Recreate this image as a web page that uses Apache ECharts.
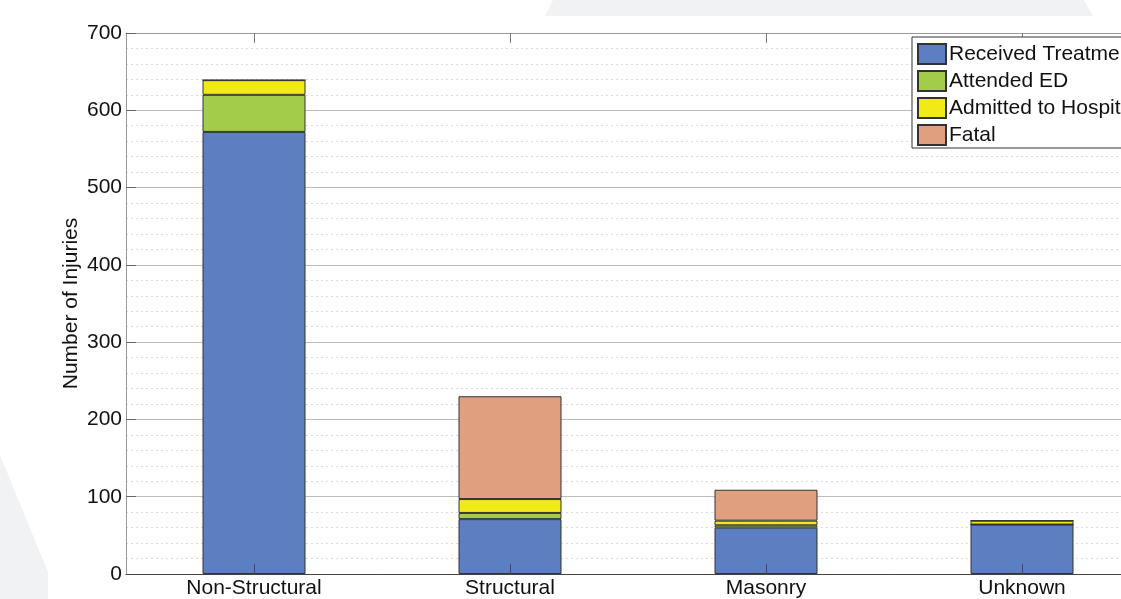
<!DOCTYPE html>
<html>
<head>
<meta charset="utf-8">
<script src="https://cdn.jsdelivr.net/npm/echarts@6/dist/echarts.min.js"></script>
<style>
  html, body { margin: 0; padding: 0; background: #fff; overflow: hidden; }
  /* the original plot runs past the right edge of the picture */
  #chart { width: 1150px; height: 599px; }
</style>
</head>
<body>
<div id="chart"></div>
<script>
// categories and stacked values
const categories = ['Non-Structural', 'Structural', 'Masonry', 'Unknown'];
const receivedTreatment = [572, 71, 60, 64];
const attendedED = [48, 8, 3, 0];
const admittedToHospital = [19, 18, 6, 5];
const fatal = [0, 133, 40, 0];

const seriesNames = ['Received Treatment', 'Attended ED', 'Admitted to Hospital', 'Fatal'];
const seriesColors = ['#5b7fc0', '#a3cd48', '#f2ea17', '#e0a080'];
const seriesData = [receivedTreatment, attendedED, admittedToHospital, fatal];

const font = 'Liberation Sans, Arial, sans-serif';

const chart = echarts.init(document.getElementById('chart'));

const series = seriesNames.map((name, i) => ({
  name: name,
  type: 'bar',
  stack: 'total',
  barWidth: 103,
  data: seriesData[i],
  itemStyle: {
    color: seriesColors[i],
    borderColor: '#333',
    borderWidth: 1
  },
  emphasis: { disabled: true }
}));

chart.setOption({
  animation: false,
  backgroundColor: '#fff',
  textStyle: { fontFamily: font },
  graphic: [
    {
      type: 'polygon', z: -10, silent: true,
      shape: { points: [[553, 0], [1084, 0], [1093, 16], [545, 16]] },
      style: { fill: '#f1f2f4' }
    },
    {
      type: 'polygon', z: -10, silent: true,
      shape: { points: [[0, 455], [48, 572], [48, 599], [0, 599]] },
      style: { fill: '#f1f2f4' }
    }
  ],
  grid: { left: 126, top: 33, bottom: 25, right: 0 },
  legend: {
    orient: 'vertical',
    left: 912,
    top: 37,
    padding: [6, 5, 2, 5],
    itemWidth: 28,
    itemHeight: 20,
    itemGap: 5,
    icon: 'rect',
    backgroundColor: '#fff',
    borderColor: '#333',
    borderWidth: 1,
    borderRadius: 0,
    textStyle: { fontFamily: font, fontSize: 21, color: '#111', lineHeight: 20, padding: [0, 0, 0, -2] },
    data: seriesNames
  },
  xAxis: [
    {
      type: 'category',
      data: categories,
      position: 'bottom',
      z: 5,
      axisLine: { lineStyle: { color: '#444', width: 1 } },
      axisTick: { show: true, inside: true, length: 10, alignWithLabel: true, lineStyle: { color: '#3a4a70' } },
      axisLabel: { fontFamily: font, fontSize: 21, color: '#111', margin: 4 },
      splitLine: { show: false }
    },
    {
      type: 'category',
      data: categories,
      position: 'top',
      axisLine: { lineStyle: { color: '#999', width: 1 } },
      axisTick: { show: true, inside: true, length: 10, alignWithLabel: true, lineStyle: { color: '#777' } },
      axisLabel: { show: false },
      splitLine: { show: false }
    }
  ],
  yAxis: {
    type: 'value',
    min: 0,
    max: 700,
    interval: 100,
    name: 'Number of Injuries',
    nameLocation: 'middle',
    nameGap: 44,
    nameMoveOverlap: false,
    nameTextStyle: { fontFamily: font, fontSize: 21, color: '#111' },
    axisLine: { show: true, lineStyle: { color: '#999', width: 1 } },
    axisTick: { show: true, inside: true, length: 10, lineStyle: { color: '#666' } },
    axisLabel: { fontFamily: font, fontSize: 21, color: '#111', margin: 4 },
    splitLine: { show: true, lineStyle: { color: '#bbb', width: 1 } },
    minorTick: { show: false, splitNumber: 5 },
    minorSplitLine: { show: true, lineStyle: { color: '#dadada', type: [2, 3], width: 1 } }
  },
  series: series
});
</script>
</body>
</html>
